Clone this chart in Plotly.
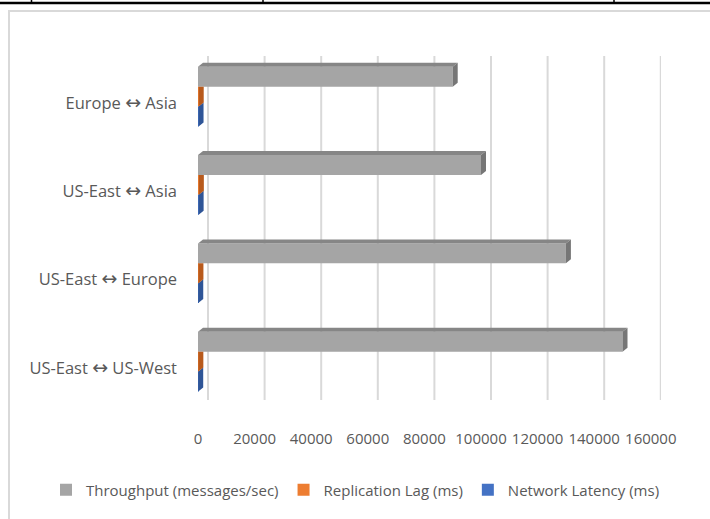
import plotly.graph_objects as go

# ---- data ----
routes = ["US-East ↔ US-West", "US-East ↔ Europe", "US-East ↔ Asia", "Europe ↔ Asia"]
throughput = [150000, 130000, 100000, 90000]      # messages/sec
replication_lag = [120, 150, 300, 250]            # ms
network_latency = [70, 85, 220, 190]              # ms
x_ticks = [0, 20000, 40000, 60000, 80000, 100000, 120000, 140000, 160000]

# ---- geometry / style ----
W, H = 710, 519
L, R, T, B = 198, 49, 56, 119
PW, PH = W - L - R, H - T - B
PX_PER_UNIT = 56.6 / 20000            # horizontal scale (px per message/sec)
X_MAX = PW / PX_PER_UNIT
WALL_SHIFT = 10 / PX_PER_UNIT         # back-wall gridlines sit behind the bars
Y_RANGE = [-0.362, 3.532]
PX_PER_CAT = PH / (Y_RANGE[1] - Y_RANGE[0])
DX = 5 / PX_PER_UNIT                  # depth of the bars (x)
DY = 4 / PX_PER_CAT                   # depth of the bars (y)
BAR_W = 0.225

FONT = "'Open Sans', sans-serif"
FS = 15
TXT = "#595959"
ARROW = '<span style="font-family:DejaVu Sans;font-size:19px">↔</span>'

series = [
    # name, values, front colour, side colour, offset
    ("Throughput (messages/sec)", throughput, "#a5a5a5", "#767676", 0.185),
    ("Replication Lag (ms)", replication_lag, "#ed7d31", "#b85a1c", -0.04),
    ("Network Latency (ms)", network_latency, "#4472c4", "#2f5597", -0.265),
]
top_colour = "#868686"

idx = list(range(len(routes)))

fig = go.Figure()

# front faces
for name, vals, col, _, off in series:
    fig.add_trace(go.Bar(
        y=idx, x=vals, orientation="h", name=name,
        width=BAR_W, offset=off, marker=dict(color=col, line=dict(width=0)),
    ))


def poly_trace(xs, ys, colour):
    return go.Scatter(x=xs, y=ys, mode="lines", fill="toself", fillcolor=colour,
                      line=dict(width=0, color=colour), hoverinfo="skip",
                      showlegend=False)


# end faces of the small series (blue first, orange over it)
for name, vals, col, side, off in reversed(series[1:]):
    xs, ys = [], []
    truncate = name.startswith("Replication")
    for i, v in zip(idx, vals):
        b = i + off
        t = b + BAR_W
        top_back = t if truncate else t + DY
        xs += [v, v, v + DX, v + DX, v, None]
        ys += [b, t, top_back, b + DY, b, None]
    fig.add_trace(poly_trace(xs, ys, side))

# top and end faces of the throughput bars
name, vals, col, side, off = series[0]
tx, ty, ex, ey = [], [], [], []
for i, v in zip(idx, vals):
    b = i + off
    t = b + BAR_W
    tx += [0, v, v + DX, DX, 0, None]
    ty += [t, t, t + DY, t + DY, t, None]
    ex += [v, v, v + DX, v + DX, v, None]
    ey += [b, t, t + DY, b + DY, b, None]
fig.add_trace(poly_trace(tx, ty, top_colour))
fig.add_trace(poly_trace(ex, ey, side))


def px_x(p):
    return (p - L) / PW


def px_y(p):
    return (H - B - p) / PH


shapes = []
# gridlines on the back wall, beneath the bars
for tv in x_ticks:
    shapes.append(dict(type="line", xref="x", yref="paper", x0=tv + WALL_SHIFT,
                       x1=tv + WALL_SHIFT, y0=0, y1=1, layer="below",
                       line=dict(color="#d9d9d9", width=2)))
shapes += [
    # chart frame
    dict(type="line", xref="paper", yref="paper", x0=px_x(9), x1=px_x(9),
         y0=px_y(10), y1=px_y(H), line=dict(color="#d9d9d9", width=2)),
    dict(type="line", xref="paper", yref="paper", x0=px_x(8), x1=px_x(W),
         y0=px_y(11), y1=px_y(11), line=dict(color="#d9d9d9", width=2)),
    # table rule above the chart
    dict(type="line", xref="paper", yref="paper", x0=px_x(0), x1=px_x(W),
         y0=px_y(3), y1=px_y(3), line=dict(color="#000000", width=2.5)),
]
for xv in (31.5, 263, 614):
    shapes.append(dict(type="line", xref="paper", yref="paper", x0=px_x(xv), x1=px_x(xv),
                       y0=px_y(0), y1=px_y(3), line=dict(color="#000000", width=1.5)))

fig.update_layout(
    width=W, height=H,
    margin=dict(l=L, r=R, t=T, b=B, pad=0),
    paper_bgcolor="white", plot_bgcolor="white",
    barmode="overlay",
    font=dict(family=FONT, size=FS, color=TXT),
    showlegend=True,
    legend=dict(orientation="h", x=px_x(46), xanchor="left", y=px_y(490), yanchor="middle",
                font=dict(family=FONT, size=FS, color=TXT), traceorder="normal",
                bgcolor="rgba(0,0,0,0)"),
    xaxis=dict(range=[0, X_MAX], tickvals=x_ticks,
               ticktext=[str(v) for v in x_ticks], showgrid=False, zeroline=False,
               showline=False, ticks="", ticklabelstandoff=28,
               tickfont=dict(family=FONT, size=FS, color=TXT)),
    yaxis=dict(range=Y_RANGE, tickvals=idx,
               ticktext=[r.replace("↔", ARROW) for r in routes], showgrid=False,
               zeroline=False, showline=False, ticks="", ticklabelstandoff=20,
               tickfont=dict(family=FONT, size=16.5, color=TXT)),
    shapes=shapes,
)

fig.write_html("out.html")
